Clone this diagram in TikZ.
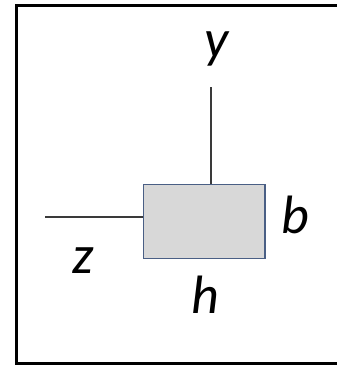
\documentclass[tikz,border=0pt]{standalone}
\usepackage{fontspec}
\newfontfamily\labfont{Carlito}
\definecolor{boxfill}{HTML}{D8D8D8}
\definecolor{boxedge}{HTML}{4A5F85}
\definecolor{stemcol}{HTML}{3A3A3A}
\tikzset{
  lab/.style={inner sep=0pt, anchor=base, font=\labfont\itshape\fontsize{54}{60}\selectfont},
  stem/.style={draw=stemcol, line width=2pt},
  section/.style={draw=boxedge, fill=boxfill, line width=1.5pt, minimum width=121.7pt, minimum height=74.4pt, inner sep=0pt}
}
\begin{document}
\begin{tikzpicture}[x=1pt,y=1pt]
\useasboundingbox (0,0) rectangle (337,-365);
\draw[line width=3pt] (16.5,-5) rectangle (350,-363);
\node[section] (box) at (204.2,-221.5) {};
\coordinate (ytop) at (210.7,-87);
\coordinate (zleft) at (45,-217.3);
\draw[stem] (ytop) -- (ytop |- box.north);
\draw[stem] (zleft) -- (zleft -| box.west);
\node[lab] (ylab) at (217,-57) {y};
\node[lab] (blab) at (295,-233) {b};
\node[lab] (zlab) at (83,-273) {z};
\node[lab] (hlab) at (205,-313) {h};
\end{tikzpicture}
\end{document}
